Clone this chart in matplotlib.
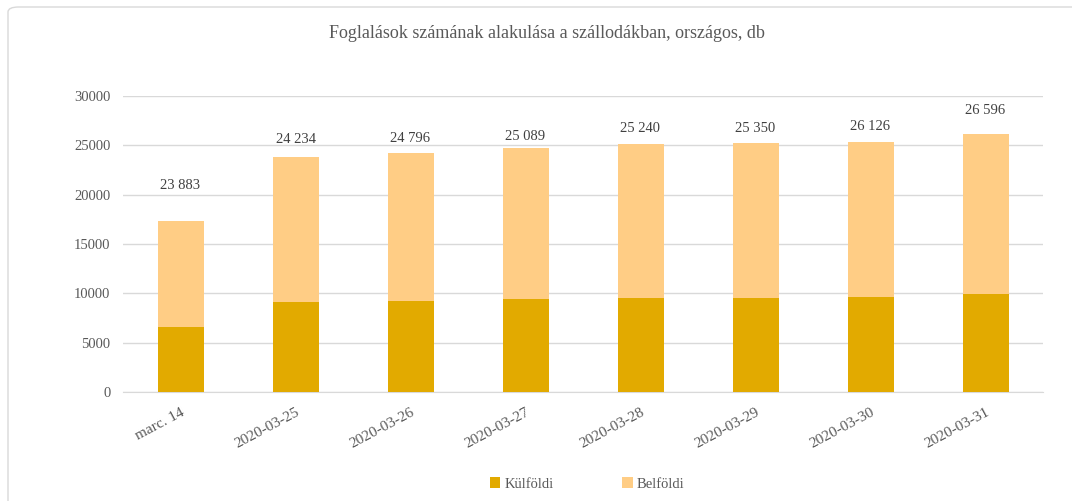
import numpy as np
import matplotlib.pyplot as plt
from matplotlib.patches import FancyBboxPatch

plt.rcParams['font.family'] = ['Liberation Serif', 'DejaVu Serif']

# Data
categories = ['marc. 14', '2020-03-25', '2020-03-26', '2020-03-27',
              '2020-03-28', '2020-03-29', '2020-03-30', '2020-03-31']
kulfoldi = [6550, 9090, 9190, 9390, 9560, 9560, 9660, 9970]
belfoldi = [10810, 14760, 15000, 15370, 15550, 15650, 15680, 16150]
labels = ['23 883', '24 234', '24 796', '25 089', '25 240', '25 350', '26 126', '26 596']

# label gap above each bar (pixels), as placed in the original
label_gap = [35, 17, 15, 11, 16, 15, 15, 24]

c_kul = '#E2AA00'
c_bel = '#FFCD85'
txt = '#595959'

fig = plt.figure(figsize=(10.72, 5.01), dpi=100)
fig.patch.set_facecolor('white')

# chart frame (cropped at right and bottom)
frame = FancyBboxPatch((8/1072, -0.2), 1.2, 1 - 7/501 + 0.2,
                       boxstyle='round,pad=0,rounding_size=0.01',
                       transform=fig.transFigure, fill=False,
                       edgecolor='#D9D9D9', linewidth=1.0)
fig.patches.append(frame)

ax = fig.add_axes([123/1072, 109/501, 920/1072, 296/501])
x = np.arange(len(categories))
w = 0.4
ax.bar(x, kulfoldi, w, color=c_kul, label='Külföldi', zorder=3)
ax.bar(x, belfoldi, w, bottom=kulfoldi, color=c_bel, label='Belföldi', zorder=3)

tot = np.array(kulfoldi) + np.array(belfoldi)
for i in range(len(x)):
    ax.annotate(labels[i], (x[i], tot[i]), xytext=(0, label_gap[i] * 0.72),
                textcoords='offset points', ha='center', va='center',
                fontsize=10.5, color='#404040')

ax.set_xlim(-0.5, len(categories) - 0.5)
ax.set_ylim(0, 30000)
ax.set_yticks(np.arange(0, 30001, 5000))
ax.yaxis.grid(True, color='#D9D9D9', linewidth=1.0, zorder=0)
ax.set_axisbelow(True)
for s in ['top', 'right', 'left']:
    ax.spines[s].set_visible(False)
ax.spines['bottom'].set_color('#D9D9D9')
ax.tick_params(axis='both', length=0, labelsize=10.5, colors=txt)
ax.tick_params(axis='y', pad=9)
ax.set_xticks(x)
ax.set_xticklabels(categories, rotation=28, ha='right', rotation_mode='anchor')
ax.tick_params(axis='x', pad=10, labelsize=11)

fig.text(0.510, 1 - 33/501, 'Foglalások számának alakulása a szállodákban, országos, db',
         ha='center', va='center', fontsize=13, color=txt)

fig.legend(loc='center', bbox_to_anchor=(0.548, 1 - 484/501), ncol=2,
           frameon=False, fontsize=10.5, handlelength=0.7, handleheight=0.7,
           handletextpad=0.3, columnspacing=4.7, labelcolor=txt)

fig.savefig('out.png', dpi=100)
